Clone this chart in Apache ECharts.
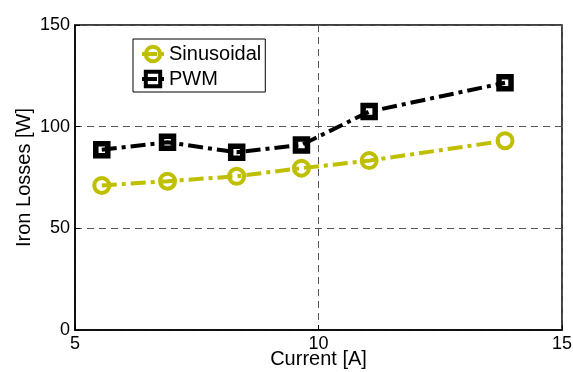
<!DOCTYPE html>
<html><head><meta charset="utf-8">
<script src="https://cdn.jsdelivr.net/npm/echarts@6/dist/echarts.min.js"></script>
<style>html,body{margin:0;padding:0;background:#fff}#c{width:573px;height:372px}</style>
</head><body><div id="c"></div>
<script>
const current = [5.55, 6.9, 8.32, 9.65, 11.04, 13.83];
const sinusoidal = [71.1, 73.2, 75.6, 79.6, 83.3, 93.1];
const pwm = [88.7, 92.3, 87.4, 91.0, 107.4, 121.6];
const seriesNames = ['Sinusoidal', 'PWM'];
const xLabel = 'Current [A]';
const yLabel = 'Iron Losses [W]';

const font = 'Liberation Sans, Arial, Helvetica, sans-serif';
const dashDot = [15, 5, 4, 5];
const yellow = '#bfbf00';
const chart = echarts.init(document.getElementById('c'));
chart.setOption({
  animation: false,
  grid: { left: 75, right: 11, top: 25, bottom: 42, show: true, borderColor: '#000', borderWidth: 1.5, containLabel: false, outerBoundsMode: 'none' },
  legend: {
    left: 133, top: 39, orient: 'vertical', itemGap: 5, itemWidth: 22, itemHeight: 18,
    padding: [5, 4, 3, 7], borderColor: '#000', borderWidth: 1, backgroundColor: '#fff',
    textStyle: { fontFamily: font, fontSize: 20, color: '#000' },
    itemStyle: { borderWidth: 4 },
    lineStyle: { width: 4 },
    data: seriesNames
  },
  xAxis: {
    type: 'value', min: 5, max: 15, interval: 5,
    name: xLabel, nameLocation: 'middle', nameGap: 19, nameMoveOverlap: false,
    nameTextStyle: { fontFamily: font, fontSize: 20, color: '#000' },
    axisLine: { show: true, onZero: false, lineStyle: { color: '#000', width: 1.5 } },
    axisTick: { show: true, inside: true, length: 5, lineStyle: { color: '#000' } },
    axisLabel: { fontFamily: font, fontSize: 18, color: '#000', margin: 5 },
    splitLine: { show: true, lineStyle: { color: '#555', type: [7, 5], width: 1 } }
  },
  yAxis: {
    type: 'value', min: 0, max: 150, interval: 50,
    name: yLabel, nameLocation: 'middle', nameGap: 41, nameMoveOverlap: false,
    nameTextStyle: { fontFamily: font, fontSize: 20, color: '#000' },
    axisLine: { show: true, lineStyle: { color: '#000', width: 1.5 } },
    axisTick: { show: true, inside: true, length: 5, lineStyle: { color: '#000' } },
    axisLabel: { fontFamily: font, fontSize: 18, color: '#000', margin: 5 },
    splitLine: { show: true, lineStyle: { color: '#555', type: [7, 5], width: 1 } }
  },
  series: [
    {
      name: seriesNames[0], type: 'line',
      data: current.map((x, i) => [x, sinusoidal[i]]),
      symbol: 'circle', symbolSize: 15,
      lineStyle: { color: yellow, width: 4, type: dashDot },
      itemStyle: { color: 'rgba(255,255,255,0)', borderColor: yellow, borderWidth: 4 },
      z: 2
    },
    {
      name: seriesNames[1], type: 'line',
      data: current.map((x, i) => [x, pwm[i]]),
      symbol: 'rect', symbolSize: 12,
      lineStyle: { color: '#000', width: 4, type: dashDot },
      itemStyle: { color: 'rgba(255,255,255,0)', borderColor: '#000', borderWidth: 5.5 },
      z: 3
    }
  ]
});
</script></body></html>
